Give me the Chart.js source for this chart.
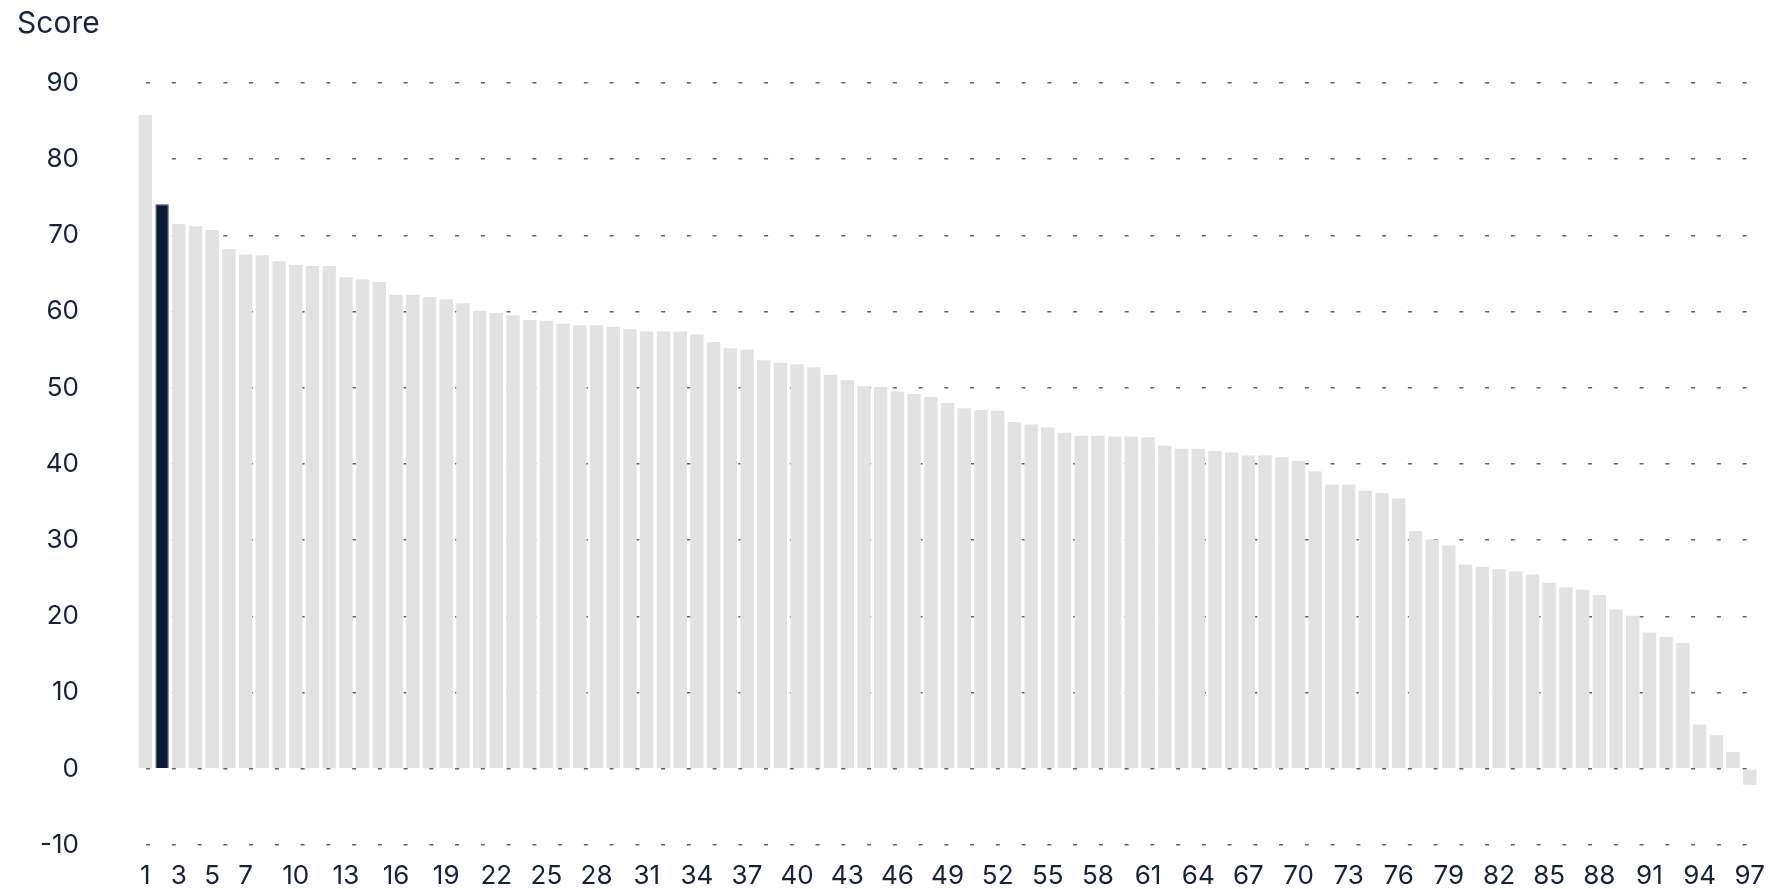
<!DOCTYPE html>
<html>
<head>
<meta charset="utf-8">
<script src="https://cdn.jsdelivr.net/npm/chart.js@4.4.1/dist/chart.umd.min.js"></script>
<style>
  html, body { margin: 0; padding: 0; background: #fff; }
  #wrap { position: relative; width: 1781px; height: 889px; }
  #barChart { display: block; }
  #yTitle {
    position: absolute; left: 17px; top: 4px;
    font-family: Inter, sans-serif; font-size: 30px; color: #1c2540;
  }
</style>
</head>
<body>
<div id="wrap">
  <div id="yTitle">Score</div>
  <canvas id="barChart" width="1781" height="889"></canvas>
</div>
<script>
// ranks 1..97
const ranks = [];
for (let i = 1; i <= 97; i++) ranks.push(String(i));

// scores, highest first
const scores = [
  85.8, 74.1, 71.5, 71.2, 70.7, 68.2, 67.5, 67.4, 66.6, 66.1,
  66.0, 66.0, 64.5, 64.2, 63.9, 62.2, 62.2, 61.9, 61.6, 61.1,
  60.1, 59.8, 59.5, 58.9, 58.8, 58.4, 58.2, 58.2, 58.0, 57.7,
  57.4, 57.4, 57.4, 57.0, 56.0, 55.2, 55.0, 53.6, 53.3, 53.1,
  52.7, 51.7, 51.0, 50.2, 50.1, 49.5, 49.2, 48.8, 48.0, 47.3,
  47.1, 47.0, 45.5, 45.2, 44.8, 44.1, 43.7, 43.7, 43.6, 43.6,
  43.5, 42.4, 42.0, 42.0, 41.7, 41.5, 41.1, 41.1, 40.9, 40.4,
  39.0, 37.3, 37.3, 36.5, 36.2, 35.5, 31.2, 30.1, 29.3, 26.8,
  26.5, 26.2, 25.9, 25.5, 24.4, 23.8, 23.5, 22.8, 20.9, 20.1,
  17.9, 17.3, 16.5, 5.8, 4.4, 2.2, -2.1
];

// the highlighted entry
const highlightRank = 2;

// x labels that are shown
const shownLabels = ['1', '3', '5', '7', '10', '13', '16', '19', '22', '25', '28', '31',
  '34', '37', '40', '43', '46', '49', '52', '55', '58', '61', '64', '67', '70',
  '73', '76', '79', '82', '85', '88', '91', '94', '97'];

const yTicks = [-10, 0, 10, 20, 30, 40, 50, 60, 70, 80, 90];

const textColor = '#18213a';

const data = {
  labels: ranks,
  datasets: [{
    label: 'Score',
    data: scores,
    backgroundColor: ranks.map(r => Number(r) === highlightRank ? '#0b1a33' : '#e2e2e2'),
    borderColor: ranks.map(r => Number(r) === highlightRank ? '#33425c' : '#e2e2e2'),
    borderWidth: ranks.map(r => Number(r) === highlightRank ? 1 : 0),
    barPercentage: 0.8,
    categoryPercentage: 1.0
  }]
};

const config = {
  type: 'bar',
  data: data,
  options: {
    responsive: false,
    animation: false,
    layout: { padding: { top: 83, right: 19, bottom: 0, left: 0 } },
    plugins: {
      legend: { display: false },
      tooltip: { enabled: false }
    },
    scales: {
      x: {
        grid: { display: false, drawTicks: false },
        border: { display: false },
        ticks: {
          autoSkip: false,
          maxRotation: 0,
          padding: 16,
          color: textColor,
          font: { family: 'Inter', size: 26 },
          callback: function (value) {
            const lab = this.getLabelForValue(value);
            return shownLabels.includes(lab) ? lab : '';
          }
        },
        afterFit: function (scale) { scale.height = 44; }
      },
      y: {
        min: yTicks[0],
        max: yTicks[yTicks.length - 1],
        afterBuildTicks: function (scale) {
          scale.ticks = yTicks.map(v => ({ value: v }));
        },
        grid: {
          drawTicks: false,
          color: '#55637c',
          lineWidth: 1.6
        },
        border: { display: false, dash: [4, 21.75], dashOffset: 16.65 },
        ticks: {
          padding: 58,
          color: textColor,
          font: { family: 'Inter', size: 26 }
        },
        afterFit: function (scale) {
          scale.width = 137;
          scale.paddingTop = 16;
          scale.paddingBottom = 16;
        }
      }
    }
  }
};

//rendering
const myChart = new Chart(document.getElementById('barChart'), config);
</script>
</body>
</html>
